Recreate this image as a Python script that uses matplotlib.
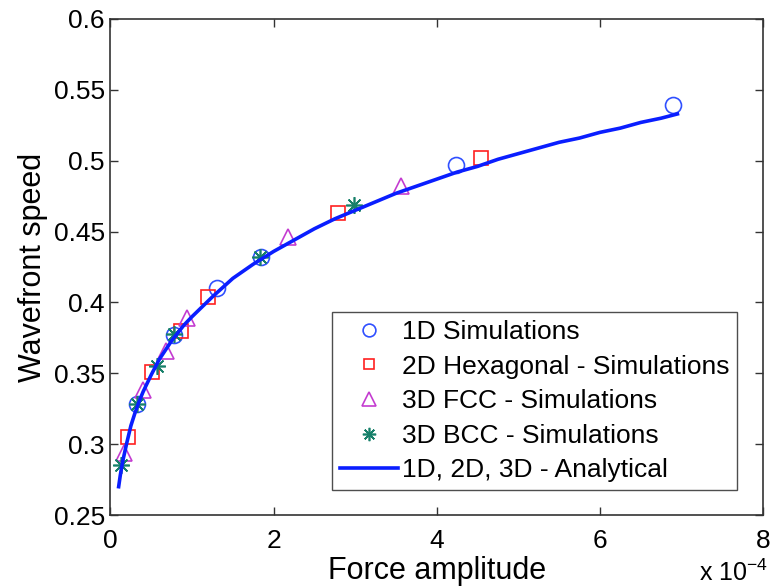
import matplotlib
matplotlib.use("Agg")
import matplotlib.pyplot as plt

plt.rcParams['font.family'] = ['Liberation Sans', 'DejaVu Sans']
plt.rcParams['mathtext.fontset'] = 'custom'
plt.rcParams['mathtext.rm'] = 'Liberation Sans'
plt.rcParams['mathtext.default'] = 'regular'

# Data (force amplitude in units of 1e-4)
x_1d = [0.33, 0.78, 1.30, 1.85, 4.24, 6.90]
y_1d = [0.328, 0.377, 0.410, 0.432, 0.497, 0.539]

x_2d = [0.21, 0.51, 0.86, 1.20, 2.79, 4.54]
y_2d = [0.305, 0.351, 0.380, 0.404, 0.463, 0.502]

x_fcc = [0.17, 0.40, 0.68, 0.94, 2.18, 3.56]
y_fcc = [0.294, 0.338, 0.366, 0.389, 0.446, 0.482]

x_bcc = [0.13, 0.33, 0.57, 0.78, 1.83, 2.99]
y_bcc = [0.285, 0.328, 0.355, 0.378, 0.432, 0.469]

x_an = [0.10, 0.12, 0.15, 0.20, 0.25, 0.30, 0.35, 0.40, 0.50, 0.60, 0.75,
        0.90, 1.00, 1.25, 1.50, 1.75, 2.00, 2.25, 2.50, 2.75, 3.00, 3.25,
        3.50, 3.75, 4.00, 4.25, 4.50, 4.75, 5.00, 5.25, 5.50, 5.75, 6.00,
        6.25, 6.50, 6.75, 6.95]
y_an = [0.270, 0.278, 0.288, 0.301, 0.313, 0.322, 0.330, 0.337, 0.349, 0.360,
        0.373, 0.384, 0.390, 0.404, 0.417, 0.427, 0.436, 0.444, 0.452, 0.459,
        0.465, 0.471, 0.477, 0.482, 0.487, 0.492, 0.496, 0.501, 0.505, 0.509,
        0.513, 0.516, 0.520, 0.523, 0.527, 0.530, 0.533]

xticks = [0, 2, 4, 6, 8]
yticks = [0.25, 0.3, 0.35, 0.4, 0.45, 0.5, 0.55, 0.6]
ytick_labels = ['0.25', '0.3', '0.35', '0.4', '0.45', '0.5', '0.55', '0.6']

fig = plt.figure(figsize=(7.7, 5.88), dpi=100)
ax = fig.add_axes([0.1435, 0.1241, 0.8475, 0.8436])

ax.plot(x_1d, y_1d, linestyle='none', marker='o', markersize=11.5,
        markerfacecolor='none', markeredgecolor='#3050ff', markeredgewidth=1.2,
        label='1D Simulations')
ax.plot(x_2d, y_2d, linestyle='none', marker='s', markersize=9.5,
        markerfacecolor='none', markeredgecolor='#ff2020', markeredgewidth=1.2,
        label='2D Hexagonal - Simulations')
ax.plot(x_fcc, y_fcc, linestyle='none', marker='^', markersize=12,
        markerfacecolor='none', markeredgecolor='#c43cd0', markeredgewidth=1.2,
        label='3D FCC - Simulations')
ax.plot(x_bcc, y_bcc, linestyle='none', marker=(8, 2, 0), markersize=12,
        markeredgecolor='#17806a', markerfacecolor='#17806a', markeredgewidth=1.2,
        label='3D BCC - Simulations')
ax.plot(x_bcc, y_bcc, linestyle='none', marker='o', markersize=3,
        color='#17806a')
ax.plot(x_an, y_an, color='#0a1eff', linewidth=2.6,
        label='1D, 2D, 3D - Analytical')

ax.set_xlim(0, 8)
ax.set_ylim(0.25, 0.6)
ax.set_xticks(xticks)
ax.set_xticklabels([str(t) for t in xticks])
ax.set_yticks(yticks)
ax.set_yticklabels(ytick_labels)

for s in ax.spines.values():
    s.set_color('#333333')
    s.set_linewidth(1.2)
ax.tick_params(direction='in', length=6, width=1.0, color='#333333',
               labelsize=19, top=True, right=True, pad=4)
ax.tick_params(axis='x', pad=10)

ax.set_xlabel('Force amplitude', fontsize=22, labelpad=2)
ax.set_ylabel('Wavefront speed', fontsize=22, labelpad=4)

handles, labels = ax.get_legend_handles_labels()
leg = ax.legend(handles, labels, loc='lower right',
                bbox_to_anchor=(0.96, 0.05), fontsize=19, frameon=True,
                fancybox=False, edgecolor='#222222', handlelength=2.2,
                handletextpad=0.12, labelspacing=0.4, borderpad=0.3,
                markerscale=0.8, borderaxespad=0)
leg.get_frame().set_linewidth(1.0)

fig.text(0.997, 0.012, r'x 10$^{-4}$', fontsize=18, ha='right', va='baseline')

fig.savefig('out.png', dpi=100)
